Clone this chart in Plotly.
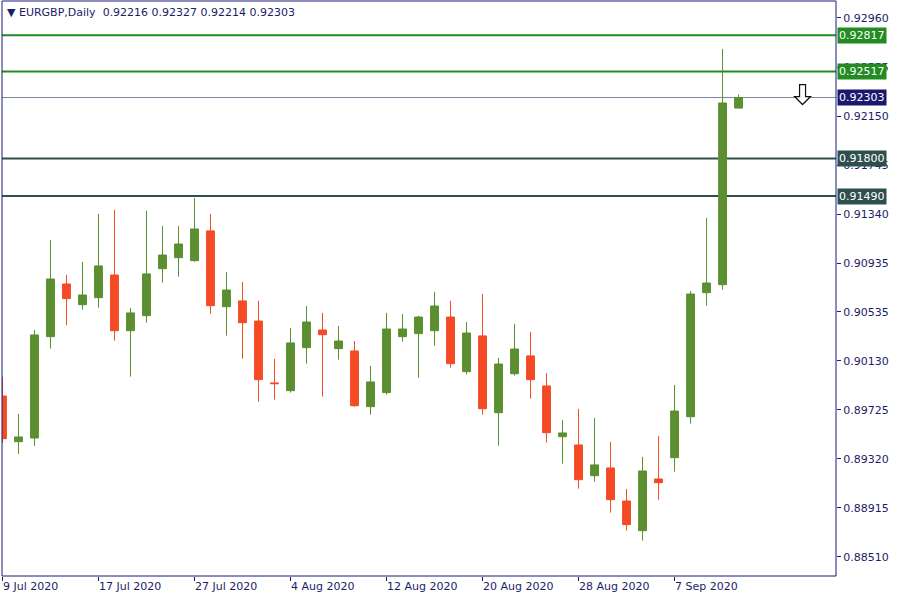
import plotly.graph_objects as go

dates = ["2020-07-09","2020-07-10","2020-07-13","2020-07-14","2020-07-15","2020-07-16","2020-07-17",
         "2020-07-20","2020-07-21","2020-07-22","2020-07-23","2020-07-24","2020-07-27","2020-07-28",
         "2020-07-29","2020-07-30","2020-07-31","2020-08-03","2020-08-04","2020-08-05","2020-08-06",
         "2020-08-07","2020-08-10","2020-08-11","2020-08-12","2020-08-13","2020-08-14","2020-08-17",
         "2020-08-18","2020-08-19","2020-08-20","2020-08-21","2020-08-24","2020-08-25","2020-08-26",
         "2020-08-27","2020-08-28","2020-08-31","2020-09-01","2020-09-02","2020-09-03","2020-09-04",
         "2020-09-07","2020-09-08","2020-09-09","2020-09-10","2020-09-11"]

opens = [0.89839,0.89462,0.89492,0.90329,0.90764,0.90593,0.90651,0.90838,0.90378,0.90502,0.90890,0.90981,
         0.90956,0.91202,0.90576,0.90624,0.90458,0.89947,0.89883,0.90238,0.90384,0.90230,0.90211,0.89751,
         0.89867,0.90329,0.90354,0.90378,0.90491,0.90040,0.90335,0.89701,0.90023,0.90170,0.89922,0.89503,
         0.89435,0.89181,0.89245,0.88972,0.88727,0.89154,0.89330,0.89668,0.90692,0.90758,0.92216]
highs = [0.89999,0.89691,0.90384,0.91127,0.90838,0.90946,0.91342,0.91375,0.90566,0.91367,0.91243,0.91243,
         0.91474,0.91342,0.90863,0.90780,0.90624,0.90145,0.90401,0.90582,0.90525,0.90417,0.90293,0.90087,
         0.90525,0.90516,0.90500,0.90698,0.90624,0.90450,0.90681,0.90153,0.90434,0.90368,0.90029,0.89641,
         0.89732,0.89658,0.89460,0.89071,0.89336,0.89509,0.89930,0.90706,0.91309,0.92704,0.92327]
lows = [0.89451,0.89360,0.89426,0.90230,0.90425,0.90552,0.90568,0.90296,0.89999,0.90444,0.90775,0.90824,
        0.90948,0.90519,0.90337,0.90147,0.89792,0.89809,0.89867,0.90106,0.89834,0.90139,0.89751,0.89685,
        0.89850,0.90288,0.89990,0.90255,0.90073,0.90015,0.89685,0.89429,0.90007,0.89817,0.89454,0.89280,
        0.89074,0.89132,0.88876,0.88727,0.88645,0.88983,0.89214,0.89611,0.90585,0.90717,0.92214]
closes = [0.89487,0.89501,0.90343,0.90805,0.90643,0.90673,0.90913,0.90378,0.90525,0.90847,0.91003,0.91094,
          0.91218,0.90585,0.90714,0.90444,0.89974,0.89941,0.90277,0.90450,0.90345,0.90293,0.89759,0.89955,
          0.90392,0.90392,0.90491,0.90582,0.90106,0.90359,0.89734,0.90103,0.90227,0.89974,0.89536,0.89534,
          0.89148,0.89270,0.88983,0.88777,0.89220,0.89123,0.89715,0.90681,0.90772,0.92258,0.92303]

tick_dates = ["2020-07-09","2020-07-17","2020-07-27","2020-08-04","2020-08-12","2020-08-20","2020-08-28","2020-09-07"]
tick_labels = ["9 Jul 2020","17 Jul 2020","27 Jul 2020","4 Aug 2020","12 Aug 2020","20 Aug 2020","28 Aug 2020","7 Sep 2020"]

price_ticks = [0.92960,0.92555,0.92150,0.91745,0.91340,0.90935,0.90535,0.90130,0.89725,0.89320,0.88915,0.88510]
price_tick_text = ["0.92960","0.92555","0.92150","0.91745","0.91340","0.90935","0.90535","0.90130","0.89725","0.89320","0.88915","0.88510"]

levels = [0.92817, 0.92517, 0.91800, 0.91490]
level_colors = ["#228b22", "#228b22", "#2f4f4f", "#2f4f4f"]
bid = 0.92303
title_text = "EURGBP,Daily  0.92216 0.92327 0.92214 0.92303"

NAVY = "#1b1b78"
TXT = "#1c1c66"
FONT = "DejaVu Sans"

fig = go.Figure()
fig.add_trace(go.Candlestick(
    x=dates, open=opens, high=highs, low=lows, close=closes,
    increasing=dict(line=dict(color="#5b8f2f", width=1), fillcolor="#5b8f2f"),
    decreasing=dict(line=dict(color="#f44b25", width=1), fillcolor="#f44b25"),
    whiskerwidth=0, hoverinfo="skip", showlegend=False,
))

shapes = []
for lv, col in zip(levels, level_colors):
    shapes.append(dict(type="line", xref="paper", x0=0, x1=1, yref="y", y0=lv, y1=lv,
                       line=dict(color=col, width=2), layer="below"))
shapes.append(dict(type="line", xref="paper", x0=0, x1=1, yref="y", y0=bid, y1=bid,
                   line=dict(color="#778899", width=1), layer="below"))
shapes.append(dict(type="rect", xref="paper", yref="paper", x0=0, x1=1, y0=0, y1=1,
                   line=dict(color=NAVY, width=1), layer="above"))
# hollow down arrow marker
shapes.append(dict(type="path", xref="x", yref="y", xsizemode="pixel", ysizemode="pixel",
                   xanchor=50.0, yanchor=bid,
                   path="M -3,13 L 3,13 L 3,1 L 8,1 L 0,-7 L -8,1 L -3,1 Z",
                   fillcolor="white", line=dict(color="#111111", width=1.2), layer="above"))

annotations = []
for lv, col in zip(levels, level_colors):
    annotations.append(dict(xref="paper", x=1, xanchor="left", xshift=1, yref="y", y=lv,
                            yanchor="middle", text=f"{lv:.5f}", showarrow=False,
                            bgcolor=col, borderpad=1, font=dict(family=FONT, size=11, color="white")))
annotations.append(dict(xref="paper", x=1, xanchor="left", xshift=1, yref="y", y=bid,
                        yanchor="middle", text=f"{bid:.5f}", showarrow=False,
                        bgcolor="#191970", borderpad=1, font=dict(family=FONT, size=11, color="white")))
annotations.append(dict(xref="paper", yref="paper", x=0, y=1, xanchor="left", yanchor="top",
                        xshift=3, yshift=-3, showarrow=False,
                        text="▼ " + title_text.replace("  ", "&nbsp;&nbsp;"),
                        font=dict(family=FONT, size=11, color=TXT)))

fig.update_layout(
    width=900, height=600,
    margin=dict(l=2, r=64, t=1, b=24, autoexpand=False),
    paper_bgcolor="white", plot_bgcolor="white",
    shapes=shapes, annotations=annotations,
    showlegend=False, hovermode=False,
    xaxis=dict(type="category", range=[-0.03, 52.09], rangeslider=dict(visible=False),
               showgrid=False, zeroline=False, showline=False, automargin=False,
               tickmode="array", tickvals=tick_dates, ticktext=tick_labels,
               ticks="outside", ticklen=4, tickcolor=NAVY, ticklabelposition="outside right",
               tickfont=dict(family=FONT, size=11, color=TXT)),
    yaxis=dict(side="right", range=[0.88353, 0.93100], showgrid=False, zeroline=False,
               showline=False, automargin=False, tickmode="array", tickvals=price_ticks,
               ticktext=price_tick_text,
               ticks="outside", ticklen=4, tickcolor=NAVY,
               tickfont=dict(family=FONT, size=11, color=TXT)),
)

fig.write_html("out.html", config={"displayModeBar": False},
               post_script="document.body.style.margin='0';document.body.style.overflow='hidden';")
